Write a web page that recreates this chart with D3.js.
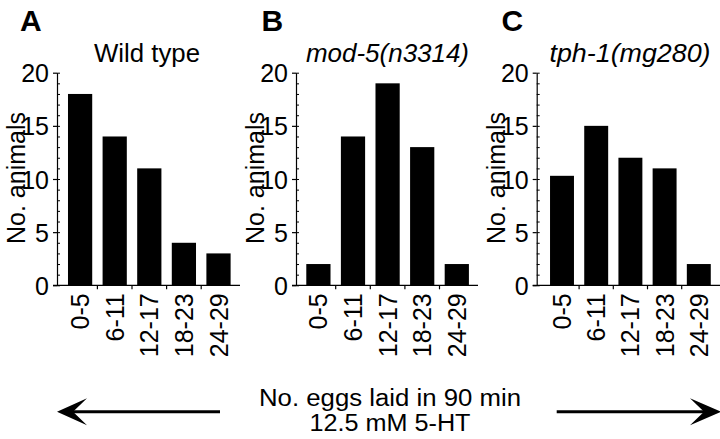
<!DOCTYPE html>
<html>
<head>
<meta charset="utf-8">
<script src="https://cdn.jsdelivr.net/npm/d3@7"></script>
<style>
  body { margin: 0; background: #fff; }
  svg { display: block; }
  text { font-family: "Liberation Sans", Arial, Helvetica, sans-serif; fill: #000; }
</style>
</head>
<body>
<svg id="chart" width="720" height="439"></svg>
<script>
const categories = ["0-5", "6-11", "12-17", "18-23", "24-29"];
const wildType = [18, 14, 11, 4, 3];
const mod5 = [2, 14, 19, 13, 2];
const tph1 = [10.3, 15, 12, 11, 2];
const yTicks = [0, 5, 10, 15, 20];
const panelLetters = ["A", "B", "C"];
const panelTitles = ["Wild type", "mod-5(n3314)", "tph-1(mg280)"];
const yTitle = "No. animals";
const xTitle = ["No. eggs laid in 90 min", "12.5 mM 5-HT"];

const svg = d3.select("#chart");
const FS = 25;
const yTop = 72.7, yBot = 285.3;
const y = d3.scaleLinear().domain([0, 20]).range([yBot, yTop]);

const panels = [
  { values: wildType, axisX: 57,    r0: 62.8,  step: 34.6, axisEnd: 240, letterX: 20,  titleX: 147, titleW: 106, italic: false },
  { values: mod5,     axisX: 296,   r0: 301.1, step: 34.6, axisEnd: 478, letterX: 261.5, titleX: 387.5, titleW: 163, italic: true },
  { values: tph1,     axisX: 536.7, r0: 544.9, step: 34.2, axisEnd: 720, letterX: 501.5, titleX: 630, titleW: 161, italic: true }
];

panels.forEach((p, i) => {
  const g = svg.append("g");
  const x = d3.scaleBand().domain(categories)
    .range([p.r0, p.r0 + p.step * categories.length])
    .paddingInner(0.3).paddingOuter(0.15);

  // bars
  g.selectAll("rect.bar").data(p.values).join("rect")
    .attr("class", "bar")
    .attr("x", (d, j) => x(categories[j]))
    .attr("width", x.bandwidth())
    .attr("y", d => y(d))
    .attr("height", d => y(0) - y(d))
    .attr("fill", "#000");

  // minor ticks (inward)
  const minor = g.append("g").attr("transform", `translate(${p.axisX},0)`)
    .call(d3.axisLeft(y).tickValues(d3.range(0, 21)).tickSize(-3).tickFormat(""));
  minor.select(".domain").remove();
  minor.selectAll("line").attr("stroke", "#000").attr("stroke-width", 1);

  // major axis
  const major = g.append("g").attr("transform", `translate(${p.axisX},0)`)
    .call(d3.axisLeft(y).tickValues(yTicks).tickSize(4).tickSizeOuter(0).tickPadding(4));
  major.select(".domain").attr("stroke", "#000").attr("stroke-width", 1.2);
  major.selectAll("line").attr("stroke", "#000").attr("stroke-width", 1.2);
  major.selectAll("text").style("font-size", FS + "px").attr("dy", "0.36em");

  // x axis line
  g.append("line")
    .attr("x1", p.axisX - 4).attr("x2", p.axisEnd)
    .attr("y1", y(0)).attr("y2", y(0))
    .attr("stroke", "#000").attr("stroke-width", 1.2);

  // boundary ticks between bars
  const boundaries = categories.slice(1).map(c => x(c) - x.step() * x.paddingInner() / 2);
  g.selectAll("line.xt").data(boundaries).join("line")
    .attr("class", "xt")
    .attr("x1", d => d).attr("x2", d => d)
    .attr("y1", y(0)).attr("y2", y(0) + 4)
    .attr("stroke", "#000").attr("stroke-width", 1.2);

  // x labels rotated
  const xa = g.append("g").attr("transform", `translate(0,${y(0)})`)
    .call(d3.axisBottom(x).tickSize(0).tickPadding(0));
  xa.select(".domain").remove();
  xa.selectAll(".tick text")
    .style("font-size", FS + "px")
    .attr("text-anchor", "end")
    .attr("transform", "translate(0,8) rotate(-90)")
    .attr("x", 0).attr("y", 0)
    .attr("dy", "0.36em");

  // y title
  g.append("text")
    .attr("transform", `translate(${p.axisX - 32},${(yTop + yBot) / 2 - 1}) rotate(-90)`)
    .attr("text-anchor", "middle")
    .style("font-size", FS + "px")
    .text(yTitle);

  // panel title
  g.append("text")
    .attr("x", p.titleX).attr("y", 62)
    .attr("text-anchor", "middle")
    .attr("textLength", p.titleW)
    .attr("lengthAdjust", "spacingAndGlyphs")
    .style("font-size", FS + "px")
    .style("font-style", p.italic ? "italic" : "normal")
    .text(panelTitles[i]);

  // panel letter
  g.append("text")
    .attr("x", p.letterX).attr("y", 30.5)
    .style("font-size", "30px")
    .style("font-weight", "bold")
    .text(panelLetters[i]);
});

// bottom title
svg.append("text")
  .attr("x", 390).attr("y", 405.5)
  .attr("text-anchor", "middle")
  .attr("textLength", 262)
  .attr("lengthAdjust", "spacingAndGlyphs")
  .style("font-size", "23.5px")
  .text(xTitle[0]);
svg.append("text")
  .attr("x", 390).attr("y", 431)
  .attr("text-anchor", "middle")
  .attr("textLength", 161)
  .attr("lengthAdjust", "spacingAndGlyphs")
  .style("font-size", "23.5px")
  .text(xTitle[1]);

// arrows
const ay = 411.7;
svg.append("line").attr("x1", 70).attr("x2", 220).attr("y1", ay).attr("y2", ay)
  .attr("stroke", "#000").attr("stroke-width", 3);
svg.append("path")
  .attr("d", `M57,${ay} L87,${ay - 13.5} L73,${ay} L87,${ay + 13.5} Z`)
  .attr("fill", "#000");
svg.append("line").attr("x1", 556.7).attr("x2", 708).attr("y1", ay).attr("y2", ay)
  .attr("stroke", "#000").attr("stroke-width", 3);
svg.append("path")
  .attr("d", `M721,${ay} L690,${ay - 13.5} L704,${ay} L690,${ay + 13.5} Z`)
  .attr("fill", "#000");
</script>
</body>
</html>
